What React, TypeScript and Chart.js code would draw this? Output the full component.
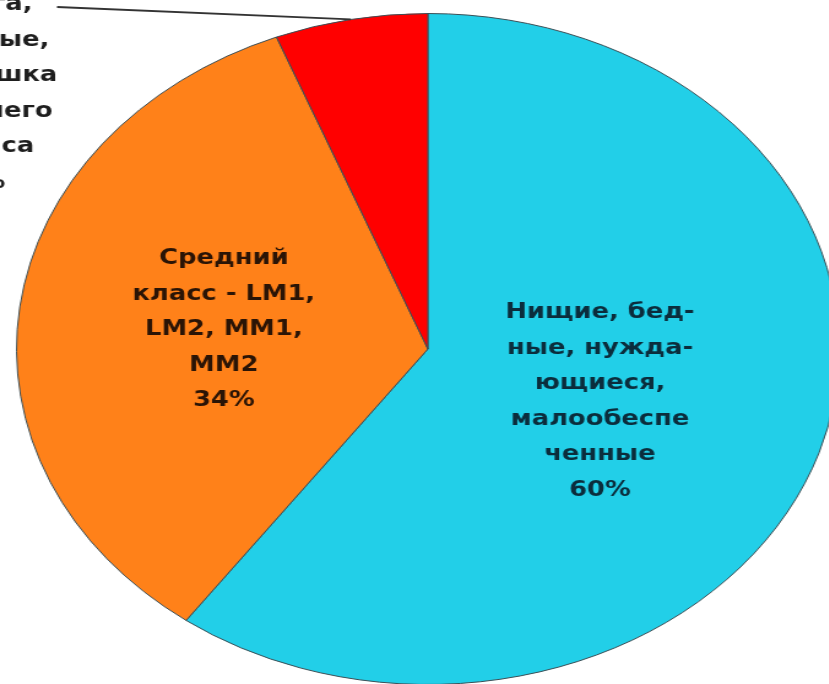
import React, { useEffect, useRef } from "react";
import { Chart, registerables } from "chart.js";

Chart.register(...registerables);

const categories = [
  "Нищие, бедные, нуждающиеся, малообеспеченные",
  "Средний класс - LM1, LM2, MM1, MM2",
  "Элита, богатые, верхушка среднего класса",
];
const values = [60, 34, 6];
const colors = ["#22CFE8", "#FF8119", "#FF0000"];
const labelLines = [
  ["Нищие, бед-", "ные, нужда-", "ющиеся,", "малообеспе", "ченные"],
  ["Средний", "класс - LM1,", "LM2, MM1,", "MM2"],
  ["Элита,", "богатые,", "верхушка", "среднего", "класса"],
];
const textColors = ["#0b2d3c", "#2a1406", "#1e1e1e"];

const STRETCH = 1.226;

const labelPlugin = {
  id: "sliceLabels",
  afterDatasetsDraw(chart: any) {
    const ctx = chart.ctx;
    const meta = chart.getDatasetMeta(0);
    const area = chart.chartArea;
    const lineH = 35.5;
    ctx.save();
    ctx.font = 'bold 21px "DejaVu Sans"';
    ctx.textAlign = "center";
    ctx.textBaseline = "middle";
    const fractions = [0.44, 0.5];
    const yShift = [7, 2];
    meta.data.forEach((arc: any, i: number) => {
      const p = arc.getProps(["x", "y", "startAngle", "endAngle", "outerRadius"], true);
      const mid = (p.startAngle + p.endAngle) / 2;
      const lines = [...labelLines[i], `${values[i]}%`];
      ctx.fillStyle = textColors[i];
      if (i < 2) {
        const f = fractions[i];
        const cx = p.x + Math.cos(mid) * p.outerRadius * f;
        const cy = p.y + Math.sin(mid) * p.outerRadius * f + yShift[i];
        const y0 = cy - ((lines.length - 1) * lineH) / 2;
        lines.forEach((t, k) => ctx.fillText(t, cx, y0 + k * lineH));
      } else {
        // outside label at top-left, with leader line to the slice
        const lx = area.left - 26.5;
        const ly = area.top - 8;
        lines.forEach((t, k) => ctx.fillText(t, lx, ly + k * lineH));
        const ex = p.x + Math.cos(mid) * p.outerRadius;
        const ey = p.y + Math.sin(mid) * p.outerRadius;
        ctx.strokeStyle = "#333333";
        ctx.lineWidth = 1.8;
        ctx.beginPath();
        ctx.moveTo(lx + 60, ly + 2);
        ctx.lineTo(ex, ey);
        ctx.stroke();
      }
    });
    ctx.restore();
  },
};

export default function App() {
  const ref = useRef<HTMLCanvasElement | null>(null);
  useEffect(() => {
    if (!ref.current) return;
    const chart = new Chart(ref.current, {
      type: "pie",
      data: {
        labels: categories,
        datasets: [
          {
            data: values,
            backgroundColor: colors,
            borderColor: "#3b4e55",
            borderWidth: 1,
          },
        ],
      },
      options: {
        responsive: false,
        animation: false,
        events: [],
        layout: { padding: { left: 13, top: 13, right: 15, bottom: 15 } },
        plugins: {
          legend: { display: false },
          tooltip: { enabled: false },
        },
      },
      plugins: [labelPlugin],
    });
    return () => chart.destroy();
  }, []);

  return (
    <div
      style={{
        position: "absolute",
        left: 0,
        top: 0,
        width: 829,
        height: 684,
        overflow: "hidden",
        background: "#ffffff",
      }}
    >
      <div
        style={{
          width: 700,
          height: 700,
          transform: `scaleX(${STRETCH})`,
          transformOrigin: "0 0",
        }}
      >
        <canvas ref={ref} width={700} height={700} />
      </div>
    </div>
  );
}
